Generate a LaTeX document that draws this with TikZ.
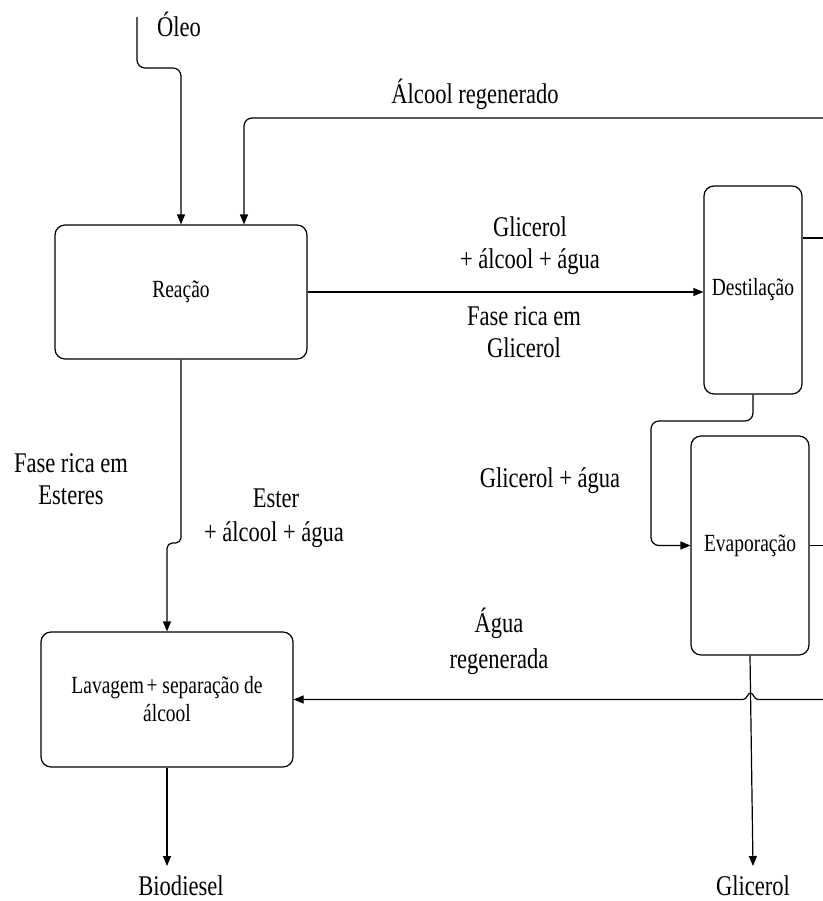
\documentclass[tikz,border=0pt]{standalone}
\usepackage{fontspec}
\setmainfont{Liberation Serif}[FakeStretch=0.79]
\usetikzlibrary{arrows.meta}
\begin{document}
\begin{tikzpicture}[x=0.75pt,y=-0.75pt,
  line width=0.9pt,
  arr/.style={-{Triangle[length=7.5pt,width=6pt]}},
  proc/.style={draw, rounded corners=7.5pt, inner sep=0pt, align=center, font=\fontsize{18.5pt}{21pt}\selectfont},
  lbl/.style={anchor=base, inner sep=0pt, font=\fontsize{21.4pt}{24pt}\selectfont}]
\useasboundingbox (0,0) rectangle (823,901);

% process boxes
\node[proc, minimum width=189pt, minimum height=100.5pt] (reacao) at (181,292) {Reação};
\node[proc, minimum width=73.5pt, minimum height=156pt] (destil) at (753,290) {Destilação};
\node[proc, minimum width=88.5pt, minimum height=164.25pt] (evap) at (750,545.5) {Evaporação};
\node[proc, minimum width=189pt, minimum height=101.25pt] (lavagem) at (167,699.5) {Lavagem\kern2pt+ separação de\\álcool};

% free ends
\coordinate (oleoTop) at (137,17);
\coordinate (oleoBend) at (137,68);
\coordinate (alcR) at (823,118);
\coordinate (alcX) at (244,0);
\coordinate (destR) at (823,238);
\coordinate (bendA) at (651,421);
\coordinate (evapR) at (823,546);
\coordinate (glicEnd) at (753,866);
\coordinate (jogY) at (0,543);
\coordinate (aguaR) at (823,699.5);
\coordinate (bioEnd) at (167,866);

% connectors
\draw[arr, rounded corners=6pt] (oleoTop) -- (oleoBend) -| (reacao.north);
\draw[arr, rounded corners=6pt] (alcR) -| (reacao.north -| alcX);
\draw[arr] (reacao.east) -- (reacao.east -| destil.west);
\draw (destil.east |- destR) -- (destR);
\draw[arr, rounded corners=6pt] (destil.south) |- (bendA) |- (evap.west);
\draw (evap.east) -- (evap.east -| evapR);
\draw[arr] (evap.south) -- (glicEnd);
\draw[arr, rounded corners=4pt] (reacao.south) -- (reacao.south |- jogY) -- (lavagem.north |- jogY) -- (lavagem.north);
\draw[arr] (aguaR) -- (758,699.5) .. controls (754,699.5) and (753.5,693) .. (750.5,693) .. controls (747.5,693) and (747,699.5) .. (743,699.5) -- (lavagem.east);
\draw[arr] (lavagem.south) -- (bioEnd);

% labels
\node[lbl] (tOleo) at (179,36) {Óleo};
\node[lbl] (tAlc) at (475,103) {Álcool regenerado};
\node[lbl] (tG1a) at (530,236) {Glicerol};
\node[lbl] (tG1b) at (530,268) {+ álcool + água};
\node[lbl] (tF1a) at (524,325) {Fase rica em};
\node[lbl] (tF1b) at (524,357) {Glicerol};
\node[lbl] (tF2a) at (71,472) {Fase rica em};
\node[lbl] (tF2b) at (71,504) {Esteres};
\node[lbl] (tE1) at (276,507) {Ester};
\node[lbl] (tE2) at (274,541) {+ álcool + água};
\node[lbl] (tGA) at (550,487) {Glicerol + água};
\node[lbl] (tA1) at (499,632) {Água};
\node[lbl] (tA2) at (499,668) {regenerada};
\node[lbl, text depth=0pt] (tBio) at (181,895) {Biodiesel};
\node[lbl, text depth=0pt] (tGlic) at (753,895) {Glicerol};
\end{tikzpicture}
\end{document}
